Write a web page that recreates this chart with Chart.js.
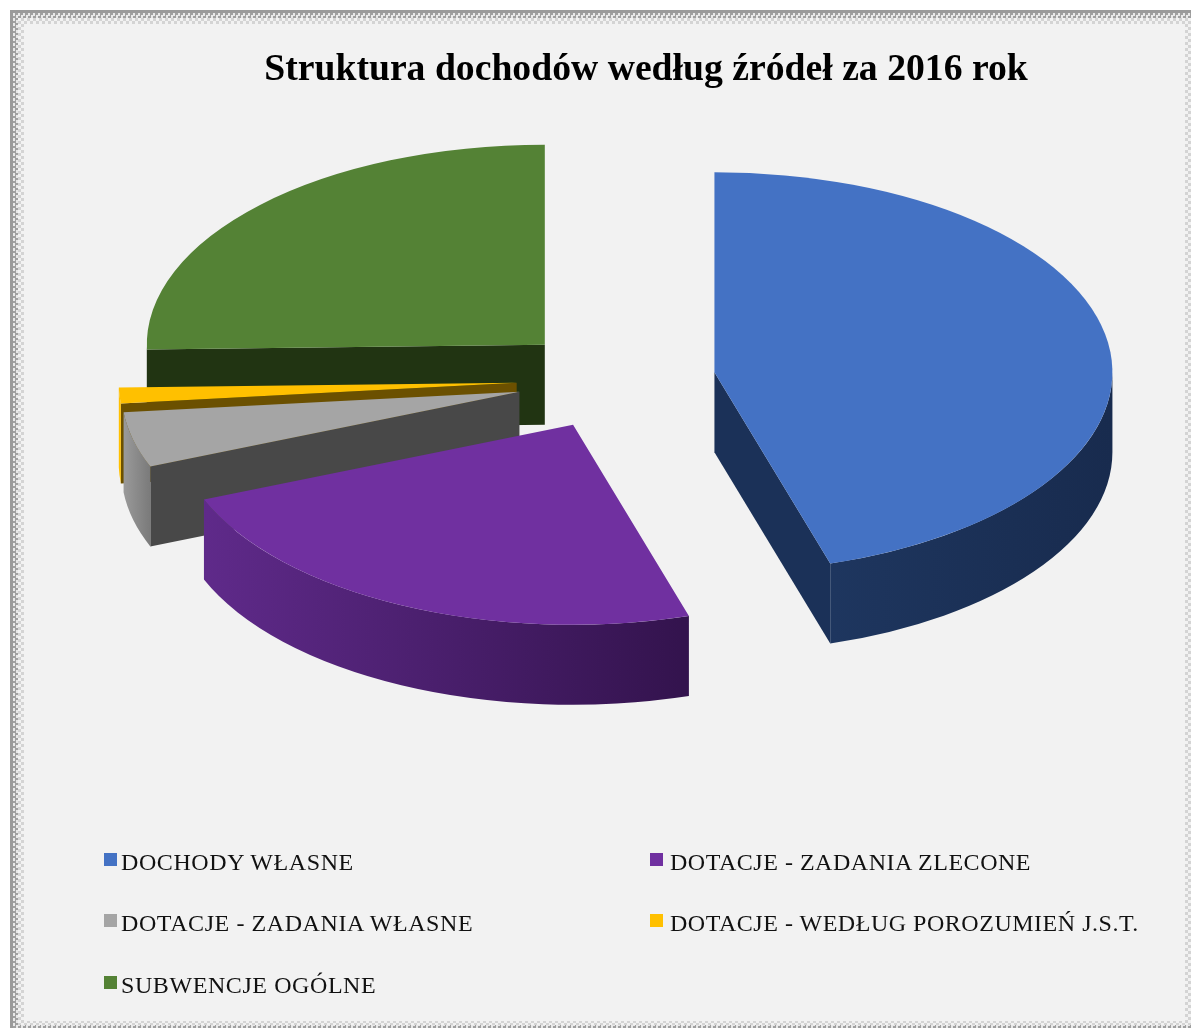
<!DOCTYPE html>
<html lang="pl">
<head>
<meta charset="utf-8">
<title>Struktura dochodów</title>
<script src="https://cdn.jsdelivr.net/npm/chart.js@4"></script>
<style>
  html, body { margin: 0; padding: 0; background: #fff; overflow: hidden; }
  #frame {
    position: absolute; left: 10px; top: 10px; width: 1181px; height: 1018px;
    background: repeating-conic-gradient(#a0a0a0 0 25%, #e8e8e8 0 50%) 0 0 / 5px 5px;
    border-top: 3px solid #9a9a9a; border-left: 3px solid #9a9a9a;
    box-sizing: border-box;
  }
  #band {
    position: absolute; left: 5px; top: 5px; width: 1173px; height: 1007px;
    background: repeating-conic-gradient(#d4d4d4 0 25%, #f2f2f2 0 50%) 0 0 / 6px 6px;
  }
  #inner {
    position: absolute; left: 6px; top: 6px; width: 1161px; height: 997px;
    background: #f2f2f2;
  }
  #chartBox { position: absolute; left: 101px; top: 0; width: 1090px; height: 1028px; }
  #legend {
    position: absolute; left: 104px; top: 840px; width: 1087px;
    display: grid; grid-template-columns: 546px 541px; grid-auto-rows: 61.5px;
    font: 24px "Liberation Serif", serif; color: #111; letter-spacing: 0.52px;
  }
  #legend div { display: flex; align-items: center; height: 44px; white-space: nowrap; }
  #legend i { display: inline-block; width: 13px; height: 13px; margin-right: 4px; position: relative; top: -3px; }
  #legend div:nth-child(even) i { margin-right: 7px; }
  #legend div:nth-child(odd) { letter-spacing: 0.58px; }
</style>
</head>
<body>
<div id="frame"><div id="band"><div id="inner"></div></div></div>
<div id="chartBox"><canvas id="pieChart"></canvas></div>
<div id="legend"></div>
<script>
document.addEventListener('DOMContentLoaded', function() {
  const categories = ['DOCHODY WŁASNE', 'DOTACJE - ZADANIA ZLECONE', 'DOTACJE - ZADANIA WŁASNE', 'DOTACJE - WEDŁUG POROZUMIEŃ J.S.T.', 'SUBWENCJE OGÓLNE'];
  const shares = [45.3, 23.6, 4.45, 1.27, 25.38];
  const topColors = ['#4472c4', '#7030a0', '#a5a5a5', '#ffc000', '#548235'];

  // side wall shades of the fake 3D
  const wallColors = [['#1e365f', '#182b4e'], ['#5f2a8a', '#33134d'], ['#9a9a9a', '#7a7a7a'], ['#ffc000', '#ffc000'], ['#213412', '#213412']];
  const edgeColors = ['#1b3158', '#3c1a5c', '#484848', '#6b5000', '#213412'];
  const drawOrder = [4, 3, 2, 0, 1];
  const explode = 50;
  const depth = 80;
  const stretchX = 1.99;
  const pieShiftX = -30;

  function drawWalls(ctx, arc, i) {
    const cx = arc.x, cy = arc.y;
    const r = arc.outerRadius;
    const a0 = arc.startAngle, a1 = arc.endAngle;

    // flat walls along the cut edges, only those facing the viewer
    [[a0, -Math.cos(a0)], [a1, Math.cos(a1)]].forEach(function(edge) {
      if (edge[1] <= 0.001) return;
      const ex = cx + Math.cos(edge[0]) * r;
      const ey = cy + Math.sin(edge[0]) * r;
      ctx.fillStyle = edgeColors[i];
      ctx.beginPath();
      ctx.moveTo(cx, cy);
      ctx.lineTo(ex, ey);
      ctx.lineTo(ex, ey + depth);
      ctx.lineTo(cx, cy + depth);
      ctx.closePath();
      ctx.fill();
    });

    // curved outer wall
    const lo = Math.max(a0, 0), hi = Math.min(a1, Math.PI);
    if (hi > lo) {
      const x1 = cx + Math.cos(hi) * r, x2 = cx + Math.cos(lo) * r;
      const grad = ctx.createLinearGradient(x1, 0, x2, 0);
      grad.addColorStop(0, wallColors[i][0]);
      grad.addColorStop(1, wallColors[i][1]);
      ctx.fillStyle = grad;
      ctx.beginPath();
      ctx.arc(cx, cy, r, lo, hi);
      ctx.arc(cx, cy + depth, r, hi, lo, true);
      ctx.closePath();
      ctx.fill();
    }
  }

  const pie3d = {
    id: 'pie3d',
    beforeDatasetsDraw(chart) {
      const ctx = chart.ctx;
      const arcs = chart.getDatasetMeta(0).data;
      drawOrder.forEach(function(i) {
        const arc = arcs[i];
        const mid = (arc.startAngle + arc.endAngle) / 2;
        ctx.save();
        ctx.translate(arc.x + pieShiftX, arc.y);
        ctx.scale(stretchX, 1);
        ctx.translate(Math.cos(mid) * explode, Math.sin(mid) * explode);
        ctx.translate(-arc.x, -arc.y);
        drawWalls(ctx, arc, i);
        arc.draw(ctx);
        ctx.restore();
      });
      return false;
    }
  };

  new Chart(document.getElementById('pieChart'), {
    type: 'pie',
    data: {
      labels: categories,
      datasets: [{
        data: shares,
        backgroundColor: topColors,
        borderWidth: 0
      }]
    },
    options: {
      responsive: true,
      maintainAspectRatio: false,
      animation: false,
      radius: 200,
      layout: { padding: { bottom: 370 } },
      plugins: {
        legend: { display: false },
        tooltip: { enabled: false },
        title: {
          display: true,
          text: 'Struktura dochodów według źródeł za 2016 rok',
          color: '#000',
          font: { family: '"Liberation Serif", serif', size: 37.7, weight: 'bold', lineHeight: 1.2 },
          padding: { top: 48, bottom: 8 }
        }
      }
    },
    plugins: [pie3d]
  });

  const legendEl = document.getElementById('legend');
  categories.forEach(function(name, i) {
    const row = document.createElement('div');
    const box = document.createElement('i');
    box.style.background = topColors[i];
    row.appendChild(box);
    row.appendChild(document.createTextNode(name));
    legendEl.appendChild(row);
  });
});
</script>
</body>
</html>
